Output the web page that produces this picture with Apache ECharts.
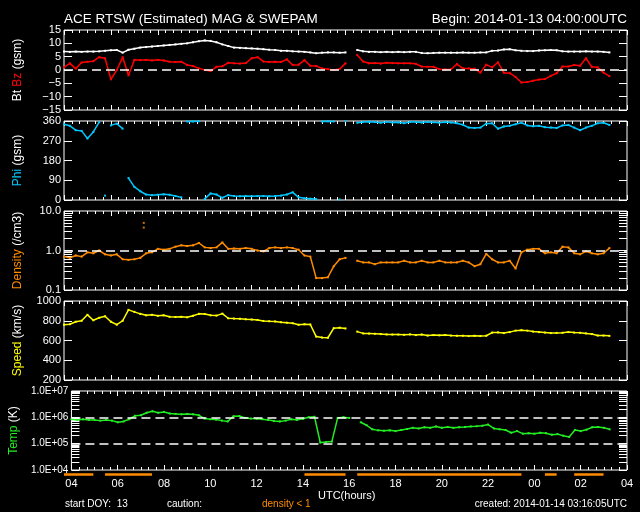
<!DOCTYPE html>
<html><head><meta charset="utf-8">
<script src="https://cdn.jsdelivr.net/npm/echarts@6/dist/echarts.min.js"></script>
<style>html,body{margin:0;padding:0;background:#000;}#c{width:640px;height:512px;}</style>
</head><body><div id="c"></div>
<script>
// ---- data (hours after 2014-01-13 04:00 UTC) ----
const START_HOUR = 4;
const times = [0,0.25,0.5,0.75,1,1.25,1.5,1.75,2,2.25,2.5,2.75,
3,3.25,3.5,3.75,4,4.25,4.5,4.75,5,5.25,5.5,5.75,
6,6.25,6.5,6.75,7,7.25,7.5,7.75,8,8.25,8.5,8.75,
9,9.25,9.5,9.75,10,10.25,10.5,10.75,11,11.25,11.5,11.75,
12,12.25,12.5,12.75,13,13.25,13.5,13.75,14,14.25,14.5,14.75,
15,15.25,15.5,15.75,16,16.25,16.5,16.75,17,17.25,17.5,17.75,
18,18.25,18.5,18.75,19,19.25,19.5,19.75,20,20.25,20.5,20.75,
21,21.25,21.5,21.75,22,22.25,22.5,22.75,23,23.25];
const bt = [6.9,6.8,6.9,6.8,6.9,6.9,7.0,7.2,7.4,7.5,6.5,7.6,
8.0,8.4,8.6,8.8,9.0,9.2,9.4,9.6,9.8,10.0,10.4,10.8,
11.1,10.9,10.4,9.6,9.0,8.4,8.3,8.2,8.1,8.0,7.8,7.6,
7.5,7.2,7.2,7.0,6.9,6.8,6.6,6.3,6.5,6.6,6.6,6.5,
6.6,null,7.5,7.0,6.8,6.8,6.7,6.8,6.7,6.8,6.7,6.8,
6.8,6.4,6.3,6.4,6.5,6.5,6.5,6.5,6.6,6.5,6.5,6.6,
6.6,7.2,7.3,7.7,7.8,7.4,7.2,7.1,7.1,7.3,7.4,7.5,
7.4,7.0,6.9,6.9,6.9,7.0,6.9,6.9,6.8,6.6];
const bz = [1.0,2.5,0.5,2.8,3.1,3.3,4.8,4.4,-3.5,0.0,4.8,-2.0,
3.8,3.7,3.8,3.6,3.8,3.6,3.1,3.0,3.1,1.9,1.5,0.6,
0.0,-0.4,1.2,1.4,2.7,2.5,2.4,2.6,4.4,4.8,3.2,3.0,
3.1,3.0,4.0,1.9,2.0,3.7,1.6,1.5,0.6,0.3,0.0,0.4,
2.5,null,5.6,3.2,2.5,2.6,2.4,2.7,2.6,2.5,2.5,2.5,
2.3,1.3,1.2,1.2,0.3,0.2,0.3,2.2,0.6,0.6,0.5,-1.0,
2.0,1.0,2.9,-1.0,-1.2,-2.6,-4.7,-4.5,-4.0,-3.6,-3.4,-2.2,
-1.2,1.3,1.3,1.9,1.6,4.4,1.2,1.0,-1.0,-2.3];
const phi = [345,338,318,315,280,310,355,20,340,348,325,100,
60,40,25,22,24,26,24,18,12,358,358,359,
5,30,25,10,22,18,17,18,17,18,18,17,
18,20,25,35,12,8,6,4,358,359,358,2,
359,null,352,355,357,355,352,356,353,354,350,356,
355,353,356,354,352,355,353,350,343,330,328,330,
348,350,325,335,338,345,352,340,336,338,332,330,
328,340,342,330,318,330,338,350,352,342];
const density = [0.7,0.65,0.75,0.7,0.9,0.85,1.0,0.8,0.75,0.8,0.6,0.58,
0.6,0.65,0.85,0.9,1.1,1.05,1.1,1.25,1.35,1.3,1.35,1.55,
1.2,1.15,1.2,1.6,1.1,1.12,1.1,1.15,1.1,1.0,0.95,1.15,
1.2,1.15,1.2,1.15,1.05,0.75,0.7,0.2,0.2,0.21,0.4,0.6,
0.65,null,0.55,0.5,0.5,0.45,0.5,0.5,0.5,0.5,0.55,0.5,
0.5,0.55,0.5,0.5,0.55,0.5,0.5,0.5,0.55,0.5,0.4,0.45,
0.82,0.6,0.5,0.5,0.55,0.35,0.9,1.05,1.1,1.1,0.85,0.9,
0.85,1.25,1.2,0.85,0.8,0.95,0.85,0.8,0.85,1.15];
const densitySpikeTimes = [3.4,3.4];
const densitySpikes = [5.0,3.8];
const speed = [760,765,790,800,860,805,830,845,790,760,800,910,
890,870,855,860,850,855,840,838,840,835,850,870,
868,855,852,872,825,822,820,815,812,808,798,795,
793,785,780,775,760,765,762,640,630,628,725,730,
722,null,690,672,670,668,665,662,660,660,658,662,
655,660,650,655,652,655,650,648,648,645,648,645,
648,680,682,675,685,700,705,700,690,685,680,675,
677,678,685,680,678,672,665,650,650,647];
const temp = [8.5e5,8.0e5,8.5e5,8.0e5,8.0e5,7.5e5,8.0e5,7.5e5,6.5e5,7.0e5,8.5e5,1.15e6,
1.2e6,1.5e6,1.7e6,1.5e6,1.6e6,1.4e6,1.35e6,1.3e6,1.35e6,1.3e6,1.2e6,9e5,
8.5e5,8.2e5,7.5e5,7.0e5,1.1e6,1.12e6,9.5e5,9.0e5,8.8e5,8.5e5,8.0e5,7.3e5,
7.0e5,7.5e5,8.5e5,8.0e5,8.8e5,1.0e6,1.05e6,1.1e5,1.15e5,1.2e5,9.5e5,1.0e6,
9.5e5,null,6.5e5,5.0e5,3.5e5,3.2e5,3.1e5,3.2e5,3.0e5,3.3e5,3.6e5,4.0e5,
3.8e5,4.2e5,4.0e5,4.5e5,4.0e5,4.3e5,4.0e5,4.2e5,4.3e5,4.5e5,4.6e5,4.8e5,
5.3e5,3.8e5,3.5e5,3.3e5,2.6e5,3.0e5,2.4e5,2.5e5,2.4e5,2.6e5,2.5e5,2.2e5,
2.3e5,2.0e5,1.8e5,3.3e5,3.0e5,3.4e5,4.2e5,4.3e5,4.0e5,3.5e5];

const densityTicks = [0.1,0.2,0.3,0.4,0.5,0.6,0.7,0.8,0.9,1,2,3,4,5,6,7,8,9,10];
const densityLabels = [0.1,1,10];
const densityLabelText = ['0.1','1.0','10.0'];
const tempTicks = [1e4,2e4,3e4,4e4,5e4,6e4,7e4,8e4,9e4,1e5,2e5,3e5,4e5,5e5,6e5,7e5,8e5,9e5,1e6,2e6,3e6,4e6,5e6,6e6,7e6,8e6,9e6,1e7];
const tempLabels = [1e4,1e5,1e6,1e7];
const tempLabelText = ['1.0E+04','1.0E+05','1.0E+06','1.0E+07'];

// ---- build ----
const FONT = 'Liberation Sans';
const W = '#ffffff';
const tops = [30,121,211,301,391];
const heights = [80,79,79,79,79];
const L = v => Math.log10(v);
function pair(vals, f){ f=f||(v=>v); return times.map((t,i)=>[t, vals[i]==null?'-':f(vals[i])]); }
function wrapPair(vals){
  const out=[];
  times.forEach((t,i)=>{
    if(i>0 && vals[i]!=null && vals[i-1]!=null && Math.abs(vals[i]-vals[i-1])>180){ out.push([(t+times[i-1])/2,'-']); }
    out.push([t, vals[i]==null?'-':vals[i]]);
  });
  return out;
}
const grid = tops.map((top,i)=>({left:64, width:563, top, height:heights[i], show:true, borderColor:W, borderWidth:1, backgroundColor:'transparent'}));
grid.push({left:64, width:563, top:473, height:3, show:false});

const xAxis=[]; const yAxis=[];
for(let i=0;i<5;i++){
  ['bottom','top'].forEach(pos=>{
    xAxis.push({type:'value', gridIndex:i, min:0, max:24, interval:2, position:pos,
      axisLine:{show:false, onZero:false}, splitLine:{show:false},
      axisTick:{show:true, inside:true, length:5, lineStyle:{color:W}},
      minorTick:{show:true, splitNumber:6, length:3, lineStyle:{color:W}},
      axisLabel:{show: (i===4 && pos==='bottom'), color:W, fontFamily:FONT, fontSize:11, margin:8,
        formatter:v=>String((v+START_HOUR)%24).padStart(2,'0')}});
  });
}
xAxis.push({type:'value', gridIndex:5, min:0, max:24, show:false});

function nameRich(main, color, rest){
  return {name:'{m|'+main+'} '+rest, nameLocation:'middle', nameRotate:90, nameGap:40,
    nameTextStyle:{color:W, fontFamily:FONT, fontSize:12, rich:{m:{color, fontFamily:FONT, fontSize:12}}}};
}
const yDefs = [
  {log:false, min:-15, max:15, interval:5, fmt:v=> v<0?'\u2212'+(-v):String(v), nm:Object.assign(nameRich('Bz','#ff0000','(gsm)'),{name:'Bt {m|Bz} (gsm)'})},
  {log:false, min:0, max:360, interval:90, fmt:v=>String(v), nm:nameRich('Phi','#00c8ff','(gsm)')},
  {log:true, min:0.1, max:10, ticks:densityTicks, labels:densityLabels, text:densityLabelText, nm:nameRich('Density','#ff8c00','(/cm3)')},
  {log:false, min:200, max:1000, interval:200, fmt:v=>String(v), nm:nameRich('Speed','#ffff00','(km/s)')},
  {log:true, min:1e4, max:1e7, ticks:tempTicks, labels:tempLabels, text:tempLabelText, nm:nameRich('Temp','#22ee22','(K)')}
];
yDefs.forEach((d,i)=>{
  ['left','right'].forEach(pos=>{
    const ax = {type:'value', gridIndex:i, position:pos,
      axisLine:{show:false, onZero:false}, splitLine:{show:false}, minorTick:{show:false},
      axisTick:{show:true, inside:true, length:8, lineStyle:{color:W}},
      axisLabel:{show:pos==='left', color:W, fontFamily:FONT, fontSize:(i===4?10:11), margin:3}};
    if(d.log){
      ax.min=L(d.min); ax.max=L(d.max);
      ax.axisTick.customValues = d.ticks.map(L);
      ax.axisLabel.customValues = d.labels.map(L);
      ax.axisLabel.formatter = v=>{ const k=d.labels.findIndex(x=>Math.abs(L(x)-v)<1e-6); return k>=0?d.text[k]:''; };
    } else {
      ax.min=d.min; ax.max=d.max; ax.interval=d.interval;
      ax.axisLabel.formatter=d.fmt;
    }
    if(pos==='left') Object.assign(ax, d.nm);
    yAxis.push(ax);
  });
});
yAxis.push({type:'value', gridIndex:5, min:0, max:1, show:false});

const dash = {type:[9,5], color:W, width:1.5};
function ml(vals){ return {silent:true, symbol:'none', label:{show:false}, lineStyle:dash, data:vals.map(v=>({yAxis:v}))}; }
function lineSeries(idx, data, color, extra){
  return Object.assign({type:'line', xAxisIndex:idx*2, yAxisIndex:idx*2, data, silent:true,
    symbol:'rect', symbolSize:2, showSymbol:true, showAllSymbol:true,
    itemStyle:{color}, lineStyle:{color, width:1.5}, connectNulls:false, animation:false, z:3}, extra||{});
}
const series = [
  lineSeries(0, pair(bz), '#ff0000', {markLine:ml([0])}),
  lineSeries(0, pair(bt), W),
  lineSeries(1, wrapPair(phi), '#00c8ff'),
  lineSeries(2, pair(density, L), '#ff8c00', {markLine:ml([0])}),
  {type:'scatter', xAxisIndex:4, yAxisIndex:4, data:densitySpikeTimes.map((t,i)=>[t,L(densitySpikes[i])]), symbol:'rect', symbolSize:2, itemStyle:{color:'#ff8c00'}, silent:true, animation:false},
  lineSeries(3, pair(speed), '#ffff00'),
  lineSeries(4, pair(temp, L), '#22ee22', {markLine:ml([5,6])}),
  {type:'line', xAxisIndex:10, yAxisIndex:10, data:times.map((t,i)=>[t, (density[i]!=null && density[i]<1)?0.5:'-']),
    symbol:'none', lineStyle:{color:'#ff8c00', width:2.5}, silent:true, animation:false, connectNulls:false}
];

const txt = (o)=>Object.assign({type:'text', silent:true}, o);
const graphic = [
  txt({left:64, top:12, style:{text:'ACE RTSW (Estimated) MAG & SWEPAM', fill:W, font:'13.5px '+FONT}}),
  txt({right:13, top:12, style:{text:'Begin: 2014-01-13 04:00:00UTC', fill:W, font:'13.5px '+FONT}}),
  txt({left:318, top:490, style:{text:'UTC(hours)', fill:W, font:'11px '+FONT}}),
  txt({left:65, top:499, style:{text:'start DOY:  13', fill:W, font:'10px '+FONT}}),
  txt({left:167, top:499, style:{text:'caution:', fill:W, font:'10px '+FONT}}),
  txt({left:262, top:499, style:{text:'density < 1', fill:'#ff8c00', font:'10px '+FONT}}),
  txt({right:13, top:499, style:{text:'created: 2014-01-14 03:16:05UTC', fill:W, font:'10px '+FONT}})
];

const chart = echarts.init(document.getElementById('c'), null, {renderer:'canvas'});
chart.setOption({backgroundColor:'#000', animation:false, grid, xAxis, yAxis, series, graphic});
</script></body></html>
